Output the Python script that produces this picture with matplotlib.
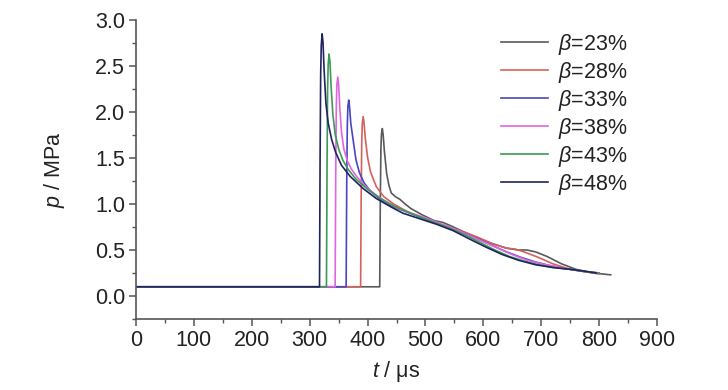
import matplotlib
matplotlib.use("Agg")
import matplotlib.pyplot as plt
from matplotlib.ticker import MultipleLocator, FormatStrFormatter

plt.rcParams['font.family'] = ['Liberation Sans', 'DejaVu Sans']
plt.rcParams['mathtext.fontset'] = 'custom'
plt.rcParams['mathtext.it'] = 'Liberation Sans:italic'
plt.rcParams['mathtext.rm'] = 'Liberation Sans'

labels = [r'$\beta$=23%', r'$\beta$=28%', r'$\beta$=33%', r'$\beta$=38%', r'$\beta$=43%', r'$\beta$=48%']
colors = ['#5a5a5a', '#d5625a', '#4a45c0', '#e066e0', '#3d9a55', '#1f2460']

t23 = [0, 421, 422, 423, 424, 425.5, 427, 429, 433, 437, 441, 448, 456, 465, 475, 495, 515, 530, 545, 565, 590, 615, 640, 660, 675, 690, 710, 735, 760, 790, 820]
p23 = [.1, .1, 1.0, 1.58, 1.76, 1.82, 1.75, 1.58, 1.33, 1.2, 1.12, 1.08, 1.05, 1.0, 0.95, 0.88, 0.82, 0.8, 0.76, 0.7, 0.63, 0.57, 0.52, 0.5, 0.5, 0.48, 0.43, 0.35, 0.29, 0.25, 0.23]

t28 = [0, 388, 389, 390, 391, 392.5, 394, 396, 400, 405, 415, 428, 445, 465, 490, 515, 540, 565, 590, 615, 640, 655, 670, 695, 720, 745, 770, 800]
p28 = [.1, .1, 1.1, 1.7, 1.88, 1.95, 1.88, 1.72, 1.51, 1.35, 1.19, 1.08, 1.0, 0.93, 0.86, 0.8, 0.75, 0.7, 0.64, 0.57, 0.52, 0.51, 0.48, 0.42, 0.35, 0.3, 0.27, 0.24]

t33 = [0, 363, 364, 365, 366, 367.5, 369, 371, 375, 380, 386, 394, 405, 420, 440, 465, 490, 515, 540, 565, 590, 615, 640, 665, 690, 715, 740, 770, 800]
p33 = [.1, .1, 1.2, 1.85, 2.06, 2.13, 2.05, 1.88, 1.7, 1.48, 1.34, 1.23, 1.14, 1.06, 0.98, 0.92, 0.86, 0.8, 0.75, 0.69, 0.62, 0.55, 0.48, 0.42, 0.37, 0.33, 0.3, 0.27, 0.25]

t38 = [0, 344, 345, 346, 347, 348.5, 350, 352, 355, 359, 365, 372, 381, 395, 412, 430, 450, 475, 500, 525, 550, 575, 600, 625, 650, 675, 700, 725, 750, 780, 800]
p38 = [.1, .1, 1.3, 2.05, 2.3, 2.38, 2.3, 2.05, 1.78, 1.6, 1.47, 1.38, 1.3, 1.2, 1.11, 1.03, 0.96, 0.9, 0.85, 0.79, 0.73, 0.66, 0.59, 0.52, 0.45, 0.39, 0.35, 0.32, 0.29, 0.26, 0.25]

t43 = [0, 329, 330, 331, 332, 333.5, 335, 337, 340, 344, 350, 357, 366, 380, 400, 420, 445, 470, 495, 520, 545, 570, 595, 620, 645, 670, 695, 720, 750, 780, 800]
p43 = [.1, .1, 1.4, 2.25, 2.52, 2.63, 2.55, 2.28, 1.98, 1.76, 1.6, 1.48, 1.38, 1.27, 1.16, 1.07, 0.98, 0.91, 0.85, 0.79, 0.73, 0.66, 0.58, 0.5, 0.43, 0.38, 0.34, 0.31, 0.29, 0.26, 0.25]

t48 = [0, 317, 318, 319, 320, 321.5, 323, 325, 328, 332, 338, 345, 355, 370, 392, 415, 440, 461, 490, 519, 548, 576, 605, 633, 660, 690, 720, 750, 775, 795]
p48 = [.1, .1, 1.5, 2.4, 2.72, 2.85, 2.76, 2.45, 2.1, 1.88, 1.7, 1.56, 1.42, 1.3, 1.17, 1.06, 0.97, 0.9, 0.84, 0.78, 0.71, 0.62, 0.53, 0.45, 0.39, 0.34, 0.31, 0.29, 0.27, 0.25]

series = [(t23, p23), (t28, p28), (t33, p33), (t38, p38), (t43, p43), (t48, p48)]

fig = plt.figure(figsize=(7.28, 3.9), dpi=100)
ax = fig.add_axes([136/728, 71/390, (657-136)/728, (319-20)/390])

for (t, p), c, lab in zip(series, colors, labels):
    ax.plot(t, p, color=c, lw=1.2, label=lab, solid_joinstyle='round')

ax.set_xlim(0, 900)
ax.set_ylim(-0.25, 3.0)
ax.xaxis.set_major_locator(MultipleLocator(100))
ax.xaxis.set_minor_locator(MultipleLocator(50))
ax.yaxis.set_major_locator(MultipleLocator(0.5))
ax.yaxis.set_minor_locator(MultipleLocator(0.25))
ax.yaxis.set_major_formatter(FormatStrFormatter('%.1f'))

for s in ['top', 'right']:
    ax.spines[s].set_visible(False)
for s in ['left', 'bottom']:
    ax.spines[s].set_color('#555555')
    ax.spines[s].set_linewidth(1.2)

ax.tick_params(which='major', direction='out', length=5, width=1.1, color='#555555',
               labelsize=15.5, labelcolor='#222222', pad=3)
ax.tick_params(which='minor', direction='out', length=3, width=1.0, color='#555555')

ax.set_xlabel(r'$t$ / μs', fontsize=15.5, color='#222222', labelpad=6)
ax.set_ylabel(r'$p$ / MPa', fontsize=15.5, color='#222222', labelpad=20)

leg = ax.legend(loc='upper right', bbox_to_anchor=(0.98, 1.025), frameon=False,
                fontsize=15.5, handlelength=2.2, labelspacing=0.14, handletextpad=0.45)
for txt in leg.get_texts():
    txt.set_color('#222222')

fig.savefig('out.png', dpi=100)
